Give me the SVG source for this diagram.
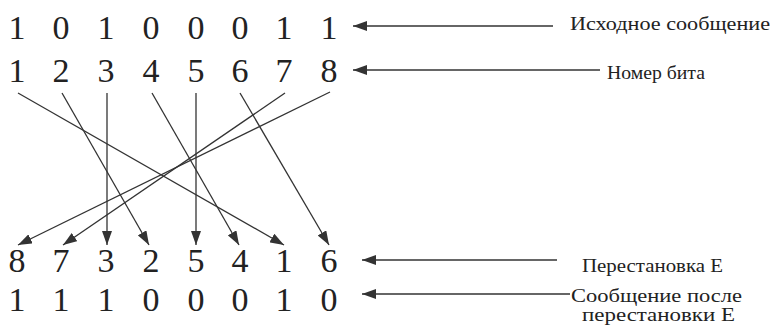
<svg xmlns="http://www.w3.org/2000/svg" width="775" height="327" viewBox="0 0 775 327">
<defs>
<style>
.d{font-family:"Liberation Serif",Tinos,"Times New Roman",Times,"Nimbus Roman","Noto Serif","DejaVu Serif",FreeSerif,serif;font-size:34px;fill:#222;text-anchor:middle}
.l{font-family:"Liberation Serif",Tinos,"Times New Roman",Times,"Nimbus Roman","Noto Serif","DejaVu Serif",FreeSerif,serif;font-size:19px;fill:#222}
.c{stroke:#333;stroke-width:1.3;fill:none;marker-end:url(#ah)}
</style>
<marker id="ah" markerUnits="userSpaceOnUse" markerWidth="14" markerHeight="10" refX="14" refY="5" orient="auto">
<path d="M0,0 L14,5 L0,10 z" fill="#333"/>
</marker>
</defs>
<rect width="775" height="327" fill="#fff"/>
<g id="row-source">
<text class="d" x="17" y="39">1</text><text class="d" x="61" y="39">0</text><text class="d" x="106" y="39">1</text><text class="d" x="151" y="39">0</text><text class="d" x="196" y="39">0</text><text class="d" x="240" y="39">0</text><text class="d" x="284" y="39">1</text><text class="d" x="329" y="39">1</text>
</g>
<g id="row-bitnum">
<text class="d" x="17" y="82">1</text><text class="d" x="61" y="82">2</text><text class="d" x="106" y="82">3</text><text class="d" x="151" y="82">4</text><text class="d" x="196" y="82">5</text><text class="d" x="240" y="82">6</text><text class="d" x="284" y="82">7</text><text class="d" x="329" y="82">8</text>
</g>
<g id="row-perm">
<text class="d" x="17" y="272">8</text><text class="d" x="61" y="272">7</text><text class="d" x="106" y="272">3</text><text class="d" x="151" y="272">2</text><text class="d" x="196" y="272">5</text><text class="d" x="240" y="272">4</text><text class="d" x="284" y="272">1</text><text class="d" x="329" y="272">6</text>
</g>
<g id="row-result">
<text class="d" x="17" y="311">1</text><text class="d" x="61" y="311">1</text><text class="d" x="106" y="311">1</text><text class="d" x="151" y="311">0</text><text class="d" x="196" y="311">0</text><text class="d" x="240" y="311">0</text><text class="d" x="284" y="311">1</text><text class="d" x="329" y="311">0</text>
</g>
<g id="label-source"><text class="l" x="570" y="30" textLength="200" lengthAdjust="spacingAndGlyphs">Исходное сообщение</text></g>
<g id="label-bitnum"><text class="l" x="607" y="79" textLength="98" lengthAdjust="spacingAndGlyphs">Номер бита</text></g>
<g id="label-perm"><text class="l" x="582" y="272" textLength="141" lengthAdjust="spacingAndGlyphs">Перестановка Е</text></g>
<g id="label-result"><text class="l" x="571" y="302" textLength="171" lengthAdjust="spacingAndGlyphs">Сообщение после</text><text class="l" x="582" y="321" textLength="153" lengthAdjust="spacingAndGlyphs">перестановки Е</text></g>
<g id="connectors">
<line class="c" x1="18" y1="93" x2="284" y2="245"/>
<line class="c" x1="62" y1="93" x2="149" y2="245"/>
<line class="c" x1="107" y1="93" x2="107" y2="245"/>
<line class="c" x1="152" y1="93" x2="239" y2="245"/>
<line class="c" x1="196" y1="93" x2="196" y2="245"/>
<line class="c" x1="240" y1="93" x2="329" y2="245"/>
<line class="c" x1="285" y1="93" x2="63" y2="245"/>
<line class="c" x1="330" y1="92" x2="18" y2="245"/>
<line class="c" x1="553" y1="26" x2="353" y2="26"/>
<line class="c" x1="600" y1="70" x2="353" y2="70"/>
<line class="c" x1="557" y1="260" x2="362" y2="260"/>
<line class="c" x1="570" y1="294" x2="362" y2="294"/>
</g>
</svg>
